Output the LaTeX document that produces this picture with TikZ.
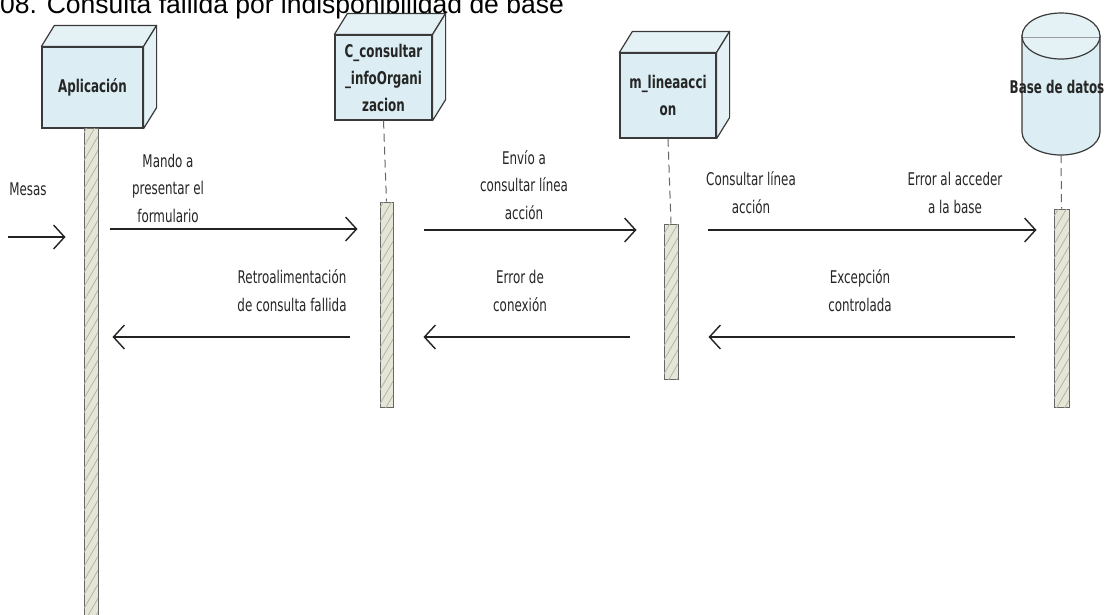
\documentclass[tikz,border=0pt]{standalone}
\usepackage{fontspec}
\setmainfont{Liberation Sans}
\newfontfamily\labfont[FakeStretch=0.68]{DejaVu Sans}
\usetikzlibrary{arrows.meta,calc,patterns.meta}
\definecolor{boxfill}{HTML}{DCEEF3}
\definecolor{topfill}{HTML}{E4F2F5}
\definecolor{boxline}{HTML}{3A3A3A}
\definecolor{barfill}{HTML}{E6E6D8}
\definecolor{hatch}{HTML}{B4B4A4}
\definecolor{msgcol}{HTML}{222222}
\tikzset{
  lbl/.style={font=\labfont\fontsize{17.5}{27.5}\selectfont, align=center, inner sep=0pt, anchor=base, text=black!85},
  ttl/.style={font=\labfont\bfseries\fontsize{17.5}{27}\selectfont, align=center, inner sep=0pt, text=black!85},
  cubebox/.style={draw=boxline, fill=boxfill, line width=1.2pt, rectangle},
  face/.style={draw=boxline, fill=topfill, line width=1.2pt, line join=round},
  actbar/.style={draw=black!60, line width=1pt, fill=barfill, rectangle, minimum width=14pt, inner sep=0pt,
     postaction={pattern={Lines[angle=60,distance=7pt,line width=0.8pt]}, pattern color=hatch}},
  life/.style={draw=black!60, line width=1pt, dash pattern=on 8pt off 5pt},
  msg/.style={draw=msgcol, line width=1.6pt, -{Straight Barb[length=11pt,width=24pt,line width=1.4pt]}}
}
\newcommand\drawcube[1]{%
  \draw[face] (#1.north west) -- ++(13,-21) -- ($(#1.north east)+(13,-21)$) -- (#1.north east) -- cycle;
  \draw[face] (#1.north east) -- ++(13,-21) -- ($(#1.south east)+(13,-21)$) -- (#1.south east) -- cycle;
}
\begin{document}
\begin{tikzpicture}[x=1pt,y=-1pt]
\useasboundingbox (0,0) rectangle (1108,614);
\fill[white] (0,0) rectangle (1108,614);

% boxes
\node[cubebox, minimum width=101pt, minimum height=81pt] (app) at (92.5,87.5) {};
\drawcube{app}
\node[ttl] (appt) at (app.center) {Aplicación};

\node[cubebox, minimum width=97pt, minimum height=85pt] (cc) at (383.5,77.5) {};
\drawcube{cc}
\node[ttl, anchor=base] (cct) at (383.5,111) {C\_consultar\\\_infoOrgani\\zacion};

\node[cubebox, minimum width=96pt, minimum height=85pt] (ml) at (668,95.5) {};
\drawcube{ml}
\node[ttl, anchor=base] (mlt) at (668,115) {m\_lineaacci\\on};

% database cylinder
\node[rectangle, inner sep=0pt, minimum width=78pt, minimum height=119pt] (db) at (1061,96) {};
\path[draw=boxline, fill=boxfill, line width=1.2pt]
  (1022,36) -- (1022,132) arc[start angle=180, end angle=360, x radius=39, y radius=-23] -- (1100,36) -- cycle;
\path[draw=boxline, fill=topfill, line width=1.2pt] (1061,36) ellipse[x radius=39, y radius=23];
\draw[color=boxline!50, line width=1pt] (1023,37) -- (1099,37);
\node[ttl, anchor=base] (dbt) at (1057,93) {Base de datos};
\coordinate (dbbot) at (1061,155);

% title (drawn last so it lies on top, cut at the top edge)
\node[anchor=base west, inner sep=0pt, font=\fontsize{26.5}{30}\selectfont] (title) at (0,13) {08. Consulta fallida por indisponibilidad de base};

% activation bars
\node[actbar, minimum height=494pt] (barA) at (91,375) {};
\node[actbar, minimum height=205pt, minimum width=13pt] (barC) at (386.5,304.5) {};
\node[actbar, minimum height=155pt] (barM) at (671,301.5) {};
\node[actbar, minimum height=198pt, minimum width=15pt] (barD) at (1061.5,308) {};

% lifelines
\draw[life] (cc.south) -- (barC.north);
\draw[life] (ml.south) -- (barM.north);
\draw[life] (dbbot) -- (barD.north);

% messages
\coordinate (y0) at (0,237);
\coordinate (y1) at (0,229);
\coordinate (y2) at (0,230);
\coordinate (y3) at (0,337);
\coordinate (start) at (8,237);

\draw[msg, shorten >=18pt] (start) -- (barA.west |- y0);
\node[lbl] (lm) at (28,195) {Mesas};

\draw[msg, shorten <=11pt, shorten >=22pt] (barA.east |- y1) -- (barC.west |- y1);
\node[lbl] (l1) at (168,222) {Mando a\\presentar el\\formulario};

\draw[msg, shorten <=30pt, shorten >=27pt] (barC.east |- y2) -- (barM.west |- y2);
\node[lbl] (l2) at (524,219) {Envío a\\consultar línea\\acción};

\draw[msg, shorten <=29pt, shorten >=17pt] (barM.east |- y2) -- (barD.west |- y2);
\node[lbl] (l3) at (751,213) {Consultar línea\\acción};
\node[lbl] (l4) at (955,213) {Error al acceder\\a la base};

\draw[msg, shorten <=39pt, shorten >=30pt] (barD.west |- y3) -- (barM.east |- y3);
\draw[msg, shorten <=34pt, shorten >=30pt] (barM.west |- y3) -- (barC.east |- y3);
\draw[msg, shorten <=30pt, shorten >=14pt] (barC.west |- y3) -- (barA.east |- y3);
\node[lbl] (l5) at (292,311) {Retroalimentación\\de consulta fallida};
\node[lbl] (l6) at (520,311) {Error de\\conexión};
\node[lbl] (l7) at (860,311) {Excepción\\controlada};
\end{tikzpicture}
\end{document}
